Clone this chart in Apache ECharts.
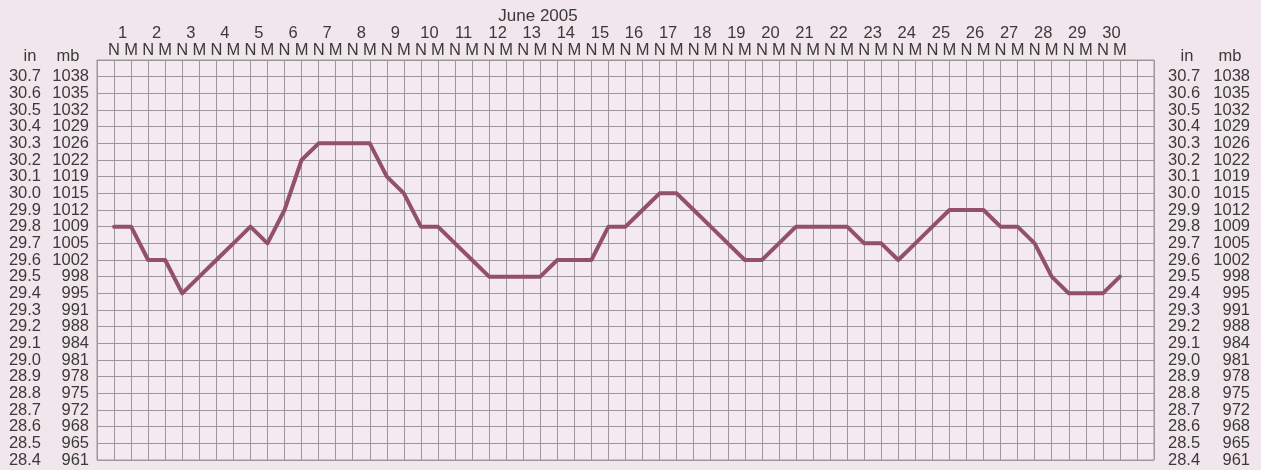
<!DOCTYPE html>
<html>
<head>
<meta charset="utf-8">
<style>
  html, body { margin: 0; padding: 0; background: #f1e6eb; }
  #chart { width: 1261px; height: 470px; }
</style>
<script src="https://cdn.jsdelivr.net/npm/echarts@6/dist/echarts.min.js"></script>
</head>
<body>
<div id="chart"></div>
<script>
// Barometric pressure readings, June 2005, twice a day (N = noon, M = midnight), in inches of mercury
const days = [1, 2, 3, 4, 5, 6, 7, 8, 9, 10, 11, 12, 13, 14, 15,
              16, 17, 18, 19, 20, 21, 22, 23, 24, 25, 26, 27, 28, 29, 30];
const halfDayLabels = ['N', 'M'];
const pressureIn = [
  29.8, 29.8, 29.6, 29.6, 29.4, 29.5, 29.6, 29.7, 29.8, 29.7,
  29.9, 30.2, 30.3, 30.3, 30.3, 30.3, 30.1, 30.0, 29.8, 29.8,
  29.7, 29.6, 29.5, 29.5, 29.5, 29.5, 29.6, 29.6, 29.6, 29.8,
  29.8, 29.9, 30.0, 30.0, 29.9, 29.8, 29.7, 29.6, 29.6, 29.7,
  29.8, 29.8, 29.8, 29.8, 29.7, 29.7, 29.6, 29.7, 29.8, 29.9,
  29.9, 29.9, 29.8, 29.8, 29.7, 29.5, 29.4, 29.4, 29.4, 29.5
];
// Scale tick labels, bottom (28.4 in) to top (30.7 in); the top line (30.8 in) is unlabelled
const inLabels = ['28.4', '28.5', '28.6', '28.7', '28.8', '28.9', '29.0', '29.1', '29.2', '29.3',
                  '29.4', '29.5', '29.6', '29.7', '29.8', '29.9', '30.0', '30.1', '30.2', '30.3',
                  '30.4', '30.5', '30.6', '30.7', ''];
const mbLabels = ['961', '965', '968', '972', '975', '978', '981', '984', '988', '991',
                  '995', '998', '1002', '1005', '1009', '1012', '1015', '1019', '1022', '1026',
                  '1029', '1032', '1035', '1038', ''];
const monthTitle = 'June 2005';

const FONT = 'Liberation Sans, Arial, sans-serif';
const TEXT = '#3a3a3a';
const GRID = '#9a9899';
// The vertical scale runs in tenths of an inch so every grid line lands on a whole number
const Y_MIN = 284, Y_MAX = 308;
const SLOTS = pressureIn.length + 2;   // one blank column before and after the readings

const labelStyle = { color: TEXT, fontFamily: FONT, fontSize: 16.5 };

// Label columns: category axes spanning the same range as the value scale, one label per line
function labelAxis(position, labels, margin, align) {
  return {
    type: 'category', position: position, data: labels, boundaryGap: false,
    axisLine: { show: false }, axisTick: { show: false }, splitLine: { show: false },
    axisLabel: Object.assign({ interval: 0, margin: margin, align: align }, labelStyle)
  };
}

const chart = echarts.init(document.getElementById('chart'), null, { renderer: 'canvas' });
chart.setOption({
  backgroundColor: '#f1e6eb',
  animation: false,
  grid: { left: 97, right: 107, top: 60, bottom: 10, show: true, backgroundColor: '#f3e9ee', borderColor: GRID, borderWidth: 1 },
  graphic: [
    { type: 'text', x: 538, y: 16, style: { text: monthTitle, fill: TEXT, font: '17px ' + FONT, align: 'center', verticalAlign: 'middle' } },
    { type: 'text', x: 30, y: 56, style: { text: 'in', fill: TEXT, font: '16.5px ' + FONT, align: 'center', verticalAlign: 'middle' } },
    { type: 'text', x: 68, y: 56, style: { text: 'mb', fill: TEXT, font: '16.5px ' + FONT, align: 'center', verticalAlign: 'middle' } },
    { type: 'text', x: 1187, y: 56, style: { text: 'in', fill: TEXT, font: '16.5px ' + FONT, align: 'center', verticalAlign: 'middle' } },
    { type: 'text', x: 1230, y: 56, style: { text: 'mb', fill: TEXT, font: '16.5px ' + FONT, align: 'center', verticalAlign: 'middle' } }
  ],
  xAxis: [
    {
      // one column per reading: N / M labels on the grid lines
      type: 'value', position: 'top', min: 0, max: SLOTS, interval: 1,
      axisLine: { show: true, lineStyle: { color: GRID } },
      axisTick: { show: false },
      splitLine: { show: true, lineStyle: { color: GRID, width: 1 } },
      axisLabel: Object.assign({
        margin: 1,
        formatter: function (v) {
          const i = Math.round(v);
          return (i >= 1 && i <= pressureIn.length) ? halfDayLabels[(i - 1) % 2] : '';
        }
      }, labelStyle)
    },
    {
      // day numbers, centred over each N/M pair (axis runs in half columns)
      type: 'value', position: 'top', offset: 17, min: 0, max: SLOTS * 2, interval: 1,
      axisLine: { show: false }, axisTick: { show: false }, splitLine: { show: false },
      axisLabel: Object.assign({
        margin: 1,
        formatter: function (v) {
          const h = Math.round(v);
          if ((h + 1) % 4 !== 0) return '';
          const d = days[(h + 1) / 4 - 1];
          return d === undefined ? '' : String(d);
        }
      }, labelStyle)
    }
  ],
  yAxis: [
    {
      // pressure scale with a grid line every 0.1 in
      type: 'value', position: 'left', min: Y_MIN, max: Y_MAX, interval: 1,
      axisLine: { show: true, lineStyle: { color: GRID, width: 1 } },
      axisTick: { show: false },
      axisLabel: { show: false },
      splitLine: { show: true, lineStyle: { color: GRID, width: 1 } }
    },
    labelAxis('left', inLabels, 56, 'right'),
    labelAxis('left', mbLabels, 8, 'right'),
    labelAxis('right', inLabels, 14, 'left'),
    labelAxis('right', mbLabels, 96, 'right')
  ],
  series: [{
    type: 'line',
    xAxisIndex: 0, yAxisIndex: 0,
    data: pressureIn.map(function (v, i) { return [i + 1, v * 10]; }),
    symbol: 'none',
    smooth: false,
    lineStyle: { color: '#93506b', width: 4, join: 'round', cap: 'round' }
  }]
});
</script>
</body>
</html>
